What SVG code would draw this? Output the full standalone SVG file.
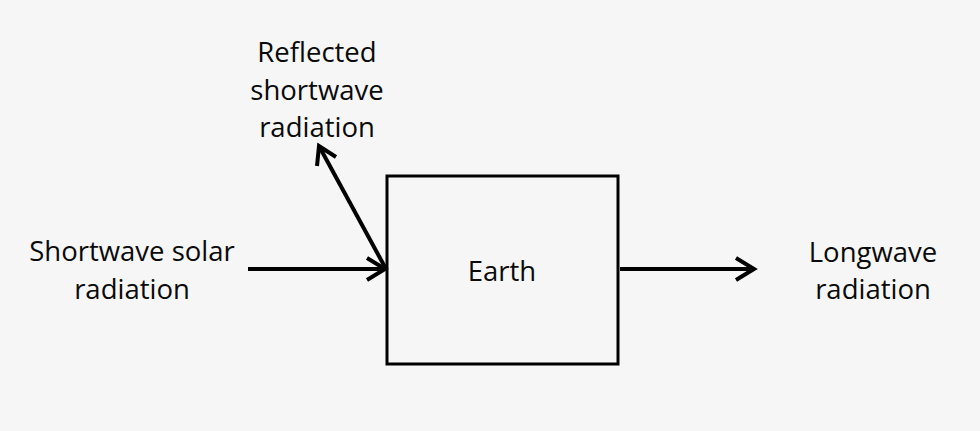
<svg xmlns="http://www.w3.org/2000/svg" width="980" height="431" viewBox="0 0 980 431">
<defs>
<style>
.t{font-family:"Open Sans","Liberation Sans",sans-serif;font-size:27.5px;fill:#0a0a0a;text-anchor:middle}
.c{stroke:#000;stroke-width:4;fill:none}
</style>
</defs>
<rect width="980" height="431" fill="#f6f6f6"/>
<g id="earth">
<rect x="387" y="176" width="231" height="188" fill="none" stroke="#000" stroke-width="3"/>
<text class="t" x="502" y="281">Earth</text>
</g>
<g id="shortwave">
<text class="t" x="132" y="261">Shortwave solar</text>
<text class="t" x="132" y="299">radiation</text>
</g>
<g id="reflected">
<text class="t" x="317" y="62">Reflected</text>
<text class="t" x="317" y="100">shortwave</text>
<text class="t" x="317" y="137">radiation</text>
</g>
<g id="longwave">
<text class="t" x="873" y="262">Longwave</text>
<text class="t" x="873" y="299">radiation</text>
</g>
<g id="connectors">
<path class="c" d="M248,269 L385,269"/>
<path class="c" d="M386,269 L319,146"/>
<path class="c" d="M620,269 L754,269"/>
<path class="c" d="M367,258 L385,269 L367,280"/>
<path class="c" d="M736,258 L754,269 L736,280"/>
<path class="c" d="M317,166 L319,146 L336,157"/>
</g>
</svg>
